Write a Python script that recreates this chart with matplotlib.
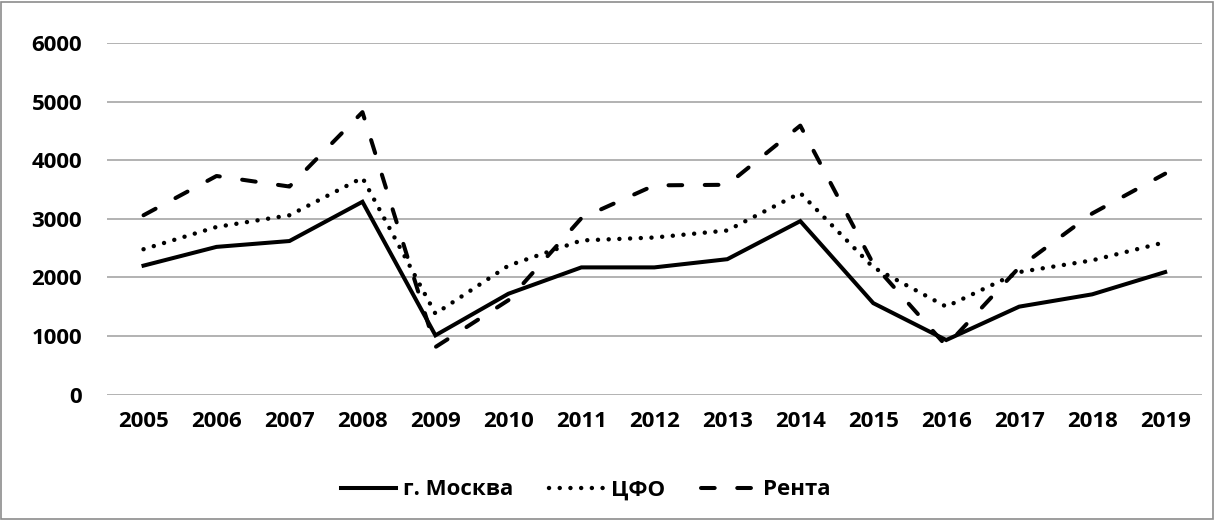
import matplotlib
matplotlib.use("Agg")
import matplotlib.pyplot as plt
from matplotlib.patches import Rectangle

years = ["2005", "2006", "2007", "2008", "2009", "2010", "2011", "2012",
         "2013", "2014", "2015", "2016", "2017", "2018", "2019"]
moscow = [2200, 2520, 2620, 3290, 1010, 1720, 2170, 2170, 2310, 2960, 1560, 930, 1500, 1710, 2090]
cfo = [2480, 2860, 3060, 3700, 1380, 2200, 2630, 2680, 2800, 3440, 2170, 1500, 2090, 2290, 2600]
renta = [3060, 3730, 3550, 4820, 810, 1610, 3010, 3570, 3580, 4590, 2230, 830, 2170, 3090, 3770]
labels = ["г. Москва", "ЦФО", "Рента"]

plt.rcParams['font.family'] = ['Open Sans', 'DejaVu Sans']
fs = 16

fig = plt.figure(figsize=(12.15, 5.2), dpi=100)
ax = fig.add_axes([0.0881, 0.2413, 0.9009, 0.676])

x = range(len(years))
ax.plot(x, moscow, color="black", lw=2.9, solid_joinstyle="miter", label=labels[0])
ax.plot(x, cfo, color="black", lw=3.2, linestyle=(0, (0.01, 2.4)),
        dash_capstyle="round", label=labels[1])
ax.plot(x, renta, color="black", lw=2.9, linestyle=(0, (3.4, 5.6)),
        dash_capstyle="round", label=labels[2])

ax.set_xlim(-0.5, len(years) - 0.5)
ax.set_ylim(0, 6000)
ax.set_yticks(range(0, 6001, 1000))
ax.set_xticks(list(x))
ax.set_xticklabels(years)
ax.grid(axis="y", color="#a6a6a6", lw=1.2)
ax.set_axisbelow(True)
for s in ax.spines.values():
    s.set_visible(False)
ax.tick_params(length=0, labelsize=fs, pad=12)
ax.tick_params(axis="y", pad=18)
for t in ax.get_xticklabels() + ax.get_yticklabels():
    t.set_fontweight("bold")

leg = fig.legend(loc="center", bbox_to_anchor=(0.482, 0.058), ncol=3, frameon=False,
                 prop={"weight": "bold", "size": fs}, handlelength=2.5,
                 columnspacing=1.6, handletextpad=0.3)

fig.patches.append(Rectangle((0.001, 0.002), 0.997, 0.995, transform=fig.transFigure,
                             fill=False, edgecolor="#8c8c8c", lw=1.2))

fig.savefig("out.png", dpi=100)
